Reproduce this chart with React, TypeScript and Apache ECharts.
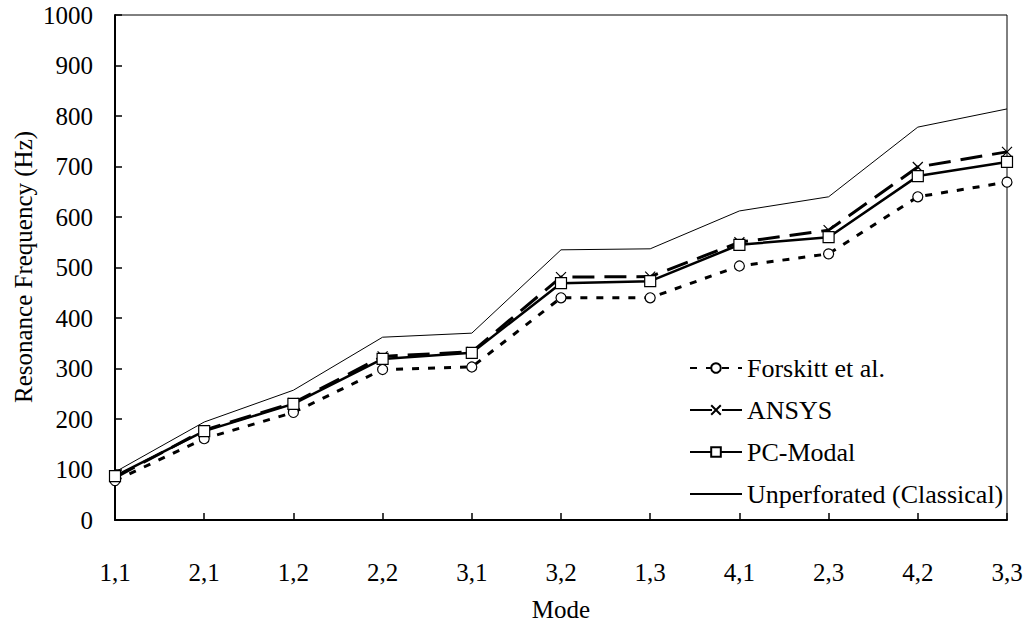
import React, { useEffect, useRef } from "react";
import * as echarts from "echarts";

const modes = ["1,1", "2,1", "1,2", "2,2", "3,1", "3,2", "1,3", "4,1", "2,3", "4,2", "3,3"];
const forskitt = [78, 161, 213, 298, 303, 440, 440, 503, 527, 640, 669];
const ansys = [84, 178, 232, 324, 333, 481, 482, 550, 574, 699, 729];
const pcModal = [87, 176, 230, 319, 331, 469, 473, 545, 560, 681, 709];
const unperforated = [95, 194, 257, 362, 370, 535, 537, 612, 640, 778, 814];

const xTitle = "Mode";
const yTitle = "Resonance Frequency (Hz)";

const serif = "Liberation Serif";
const crossSymbol = "path://M0,0L10,10M10,0L0,10";

export default function App() {
  const ref = useRef<HTMLDivElement>(null);

  useEffect(() => {
    if (!ref.current) return;
    const chart = echarts.init(ref.current, null, { renderer: "svg" });
    chart.setOption({
      animation: false,
      backgroundColor: "#fff",
      textStyle: { fontFamily: serif, color: "#000" },
      grid: {
        left: 115,
        right: 27,
        top: 15,
        bottom: 101,
        outerBoundsMode: "none",
        containLabel: false,
        show: true,
        borderColor: "#000",
        borderWidth: 1,
      },
      // axis titles placed as free text
      graphic: [
        {
          type: "text",
          x: 561,
          y: 609,
          style: {
            text: xTitle,
            fontFamily: serif,
            fontSize: 25,
            fill: "#000",
            align: "center",
            verticalAlign: "middle",
          },
        },
        {
          type: "text",
          x: 23,
          y: 267,
          rotation: Math.PI / 2,
          style: {
            text: yTitle,
            fontFamily: serif,
            fontSize: 25,
            fill: "#000",
            align: "center",
            verticalAlign: "middle",
          },
        },
      ],
      legend: {
        orient: "vertical",
        left: 684,
        top: 350,
        itemWidth: 52,
        itemHeight: 12,
        itemGap: 16,
        textStyle: { fontFamily: serif, fontSize: 26, color: "#000" },
        data: ["Forskitt et al.", "ANSYS", "PC-Modal", "Unperforated (Classical)"],
      },
      xAxis: {
        type: "category",
        data: modes,
        boundaryGap: false,
        axisLine: { lineStyle: { color: "#000", width: 2 } },
        axisTick: { inside: true, length: 7, lineStyle: { color: "#000", width: 1.5 } },
        axisLabel: { margin: 40, fontFamily: serif, fontSize: 25, color: "#000" },
        splitLine: { show: false },
      },
      yAxis: {
        type: "value",
        min: 0,
        max: 1000,
        interval: 100,
        axisLine: { show: true, lineStyle: { color: "#000", width: 2 } },
        axisTick: { show: true, inside: true, length: 7, lineStyle: { color: "#000", width: 1.5 } },
        axisLabel: {
          margin: 22,
          fontFamily: serif,
          fontSize: 25,
          color: "#000",
          formatter: (v: number) => String(v),
        },
        splitLine: { show: false },
      },
      series: [
        {
          name: "Unperforated (Classical)",
          type: "line",
          data: unperforated,
          symbol: "circle",
          showSymbol: false,
          lineStyle: { color: "#000", width: 1 },
          itemStyle: { color: "rgba(0,0,0,0)", borderColor: "rgba(0,0,0,0)", borderWidth: 0 },
          z: 1,
        },
        {
          name: "Forskitt et al.",
          type: "line",
          data: forskitt,
          symbol: "circle",
          symbolSize: 10,
          lineStyle: { color: "#000", width: 3, type: [7, 9] },
          itemStyle: { color: "#fff", borderColor: "#000", borderWidth: 1.2 },
          z: 2,
        },
        {
          name: "ANSYS",
          type: "line",
          data: ansys,
          symbol: crossSymbol,
          symbolSize: 10,
          lineStyle: { color: "#000", width: 3, type: [22, 10] },
          itemStyle: { color: "none", borderColor: "#000", borderWidth: 1.2 },
          z: 3,
        },
        {
          name: "PC-Modal",
          type: "line",
          data: pcModal,
          symbol: "rect",
          symbolSize: 11,
          lineStyle: { color: "#000", width: 2.5 },
          itemStyle: { color: "#fff", borderColor: "#000", borderWidth: 1.2 },
          z: 4,
        },
      ],
    });
    return () => chart.dispose();
  }, []);

  return <div ref={ref} style={{ width: 1034, height: 621, position: "absolute", left: 0, top: 0 }} />;
}
